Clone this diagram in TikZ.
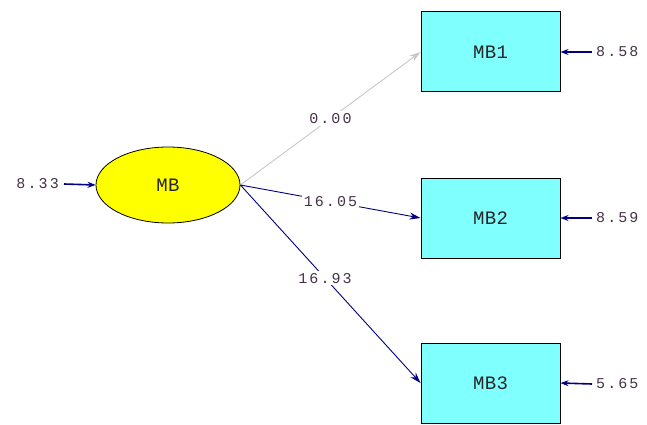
\documentclass[tikz,border=0pt]{standalone}
\usepackage{fontspec}
\setmonofont{Liberation Mono}
\newfontfamily\numfont{Liberation Mono}[LetterSpace=14]
\newfontfamily\boxfont{Liberation Mono}[LetterSpace=2]
\usetikzlibrary{shapes.geometric,arrows.meta}
\definecolor{pathblue}{RGB}{0,0,128}
\definecolor{pathgray}{RGB}{200,200,200}
\definecolor{boxcyan}{RGB}{128,255,255}
\definecolor{latyellow}{RGB}{255,255,0}
\definecolor{numtext}{RGB}{70,50,70}
\tikzset{
  latent/.style={ellipse, draw=black, line width=0.8pt, fill=latyellow, minimum width=144pt, minimum height=76pt, inner sep=0pt, font=\boxfont\fontsize{19}{19}\selectfont, text=black!85},
  observed/.style={rectangle, draw=black, line width=1pt, fill=boxcyan, minimum width=139pt, minimum height=80pt, inner sep=0pt, font=\boxfont\fontsize{19}{19}\selectfont, text=black!85},
  numlabel/.style={font=\numfont\fontsize{15}{15}\selectfont, text=numtext, inner sep=1pt},
  pathlabel/.style={numlabel, fill=white, inner sep=2pt},
  patharrow/.style={draw=pathblue, line width=0.9pt, -{Stealth[length=11pt,width=7pt]}},
  zeroarrow/.style={draw=pathgray, line width=0.9pt, -{Stealth[length=11pt,width=7pt]}},
  errarrow/.style={draw=pathblue, line width=1.6pt, -{Stealth[length=8pt,width=6pt]}},
}
\begin{document}
\begin{tikzpicture}[x=1pt,y=-1pt]
\useasboundingbox (0,0) rectangle (647,425);
\node[latent] (MB) at (168,185) {MB};
\node[observed] (MB1) at (490.5,52) {MB1};
\node[observed] (MB2) at (490.5,218) {MB2};
\node[observed] (MB3) at (490.5,383) {MB3};
\node[numlabel, anchor=east] (eMB) at (60,184) {8.33};
\node[numlabel, anchor=west] (e1) at (595,52) {8.58};
\node[numlabel, anchor=west] (e2) at (595,218) {8.59};
\node[numlabel, anchor=west] (e3) at (595,384) {5.65};
\draw[errarrow] (eMB.east) ++(4,0) coordinate (eMBs) -- (MB.west);
\draw[errarrow] (e1.west) ++(-3,0) coordinate (e1s) -- (MB1.east);
\draw[errarrow] (e2.west) ++(-3,0) coordinate (e2s) -- (MB2.east);
\draw[errarrow] (e3.west) ++(-3,0) coordinate (e3s) -- (MB3.east);
\draw[zeroarrow] (MB.east) -- node[pathlabel, pos=0.5] {0.00} (MB1.west);
\draw[patharrow] (MB.east) -- node[pathlabel, pos=0.5] {16.05} (MB2.west);
\draw[patharrow] (MB.east) -- node[pathlabel, pos=0.47] {16.93} (MB3.west);
\end{tikzpicture}
\end{document}
